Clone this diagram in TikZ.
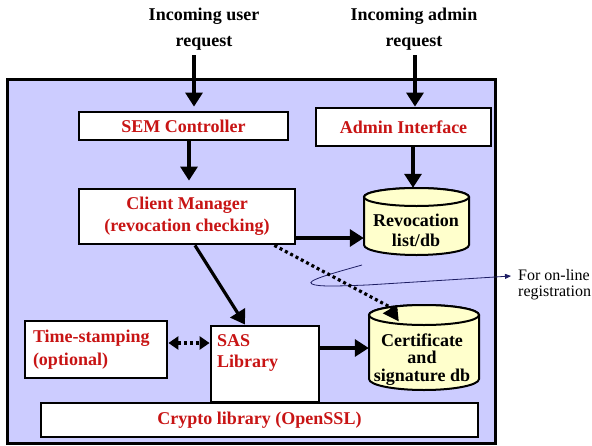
\documentclass[tikz,border=0pt]{standalone}
\usepackage{fontspec}
\setmainfont{Liberation Serif}
\usetikzlibrary{arrows.meta}
\definecolor{bgblue}{RGB}{204,204,255}
\definecolor{dbyellow}{RGB}{255,255,204}
\definecolor{redtext}{RGB}{200,20,20}
\definecolor{navyline}{RGB}{30,30,100}
\begin{document}
\begin{tikzpicture}[x=1pt,y=-1pt,
  box/.style={draw=black, line width=2.8pt, fill=white, inner sep=0pt,
    font=\bfseries\fontsize{18}{22}\selectfont, text=redtext, align=center},
  flow/.style={line width=3.2pt, -{Triangle[length=14pt,width=17pt]}},
  dotflow/.style={line width=3.2pt, dash pattern=on 3pt off 3pt},
  lbl/.style={font=\bfseries\fontsize{18}{26}\selectfont, align=center, inner sep=0pt},
  redlbl/.style={font=\bfseries\fontsize{18}{21}\selectfont, text=redtext, align=left, inner sep=0pt},
  cyl/.style={draw=black, line width=2pt, fill=dbyellow},
  dbtext/.style={font=\bfseries\fontsize{18}{20}\selectfont, align=center, inner sep=0pt},
  ghost/.style={inner sep=0pt}
]
\useasboundingbox (0,0) rectangle (592,445);

% outer frame
\node[draw=black, line width=3pt, fill=bgblue, minimum width=488pt, minimum height=364pt, inner sep=0pt] (frame) at (251,261) {};

% incoming labels
\node[lbl] (userreq) at (204,29) {Incoming user\\request};
\node[lbl] (adminreq) at (414,29) {Incoming admin\\request};

% boxes
\node[box, minimum width=209pt, minimum height=28pt] (sem) at (183.5,126) {SEM Controller};
\node[box, minimum width=175pt, minimum height=38pt] (admin) at (403.5,127) {Admin Interface};
\node[box, minimum width=216pt, minimum height=55pt] (client) at (187,216.5) {Client Manager\\(revocation checking)};
\node[box, align=left, text width=126pt, inner xsep=8pt, minimum height=57pt, font=\bfseries\fontsize{18}{23}\selectfont] (time) at (96,349.5) {Time-stamping\\(optional)};
\node[box, minimum width=108pt, minimum height=76pt] (sas) at (265,364) {};
\node[redlbl, anchor=west] (sastext) at (217,352.5) {SAS\\Library};
\node[box, minimum width=437pt, minimum height=34pt] (crypto) at (259.5,420) {Crypto library (OpenSSL)};

% revocation cylinder
\draw[cyl] (364,197) -- (364,245) arc[start angle=180,end angle=360,x radius=52.5pt,y radius=10pt] -- (469,197) arc[start angle=0,end angle=180,x radius=52.5pt,y radius=9pt] -- cycle;
\draw[cyl] (416.5,197) ellipse [x radius=52.5pt, y radius=9pt];
\node[ghost, minimum width=105pt, minimum height=67pt] (revcyl) at (416.5,221.5) {};
\node[dbtext] (revoc) at (416,230) {Revocation\\list/db};

% certificate cylinder
\draw[cyl] (369,315) -- (369,379) arc[start angle=180,end angle=360,x radius=55pt,y radius=11pt] -- (479,315) arc[start angle=0,end angle=180,x radius=55pt,y radius=10pt] -- cycle;
\draw[cyl] (424,315) ellipse [x radius=55pt, y radius=10pt];
\node[ghost, minimum width=110pt, minimum height=85pt] (certcyl) at (424,347.5) {};
\node[dbtext, font=\bfseries\fontsize{18}{17.5}\selectfont] (cert) at (422,359.5) {Certificate\\and\\signature db};

% on-line registration note
\node[font=\fontsize{16}{16}\selectfont, align=left, inner sep=0pt, anchor=west] (reg) at (518,285) {For on-line\\registration};
\coordinate (cstart) at (362,265);
\draw[navyline, line width=0.8pt, -{Triangle[length=6pt,width=5pt]}]
  (cstart) .. controls (330,274) and (305,281) .. (312,284)
  .. controls (318,287) and (340,286) .. (367,285) -- ([xshift=-7pt,yshift=9pt]reg.west);

% connectors
\draw[flow] ([xshift=-10pt,yshift=-5pt]userreq.south) -- ([xshift=10.5pt,yshift=4pt]sem.north);
\draw[flow] ([xshift=1pt,yshift=-5pt]adminreq.south) -- ([xshift=11.5pt]admin.north);
\draw[flow] ([xshift=5.5pt]sem.south) -- ([xshift=2pt,yshift=7pt]client.north);
\draw[flow] ([xshift=9.5pt]admin.south) -- ([xshift=-3.5pt]revcyl.north);
\draw[flow] ([yshift=-21.5pt]client.east) -- ([yshift=-16.5pt]revcyl.west);
\draw[flow] ([xshift=8pt]client.south) -- ([xshift=-20pt]sas.north);
\draw[flow] ([yshift=16pt]sas.east) -- ([yshift=-0.5pt]certcyl.west);
\draw[dotflow] ([xshift=-22pt]client.south east) -- ([xshift=-27pt,yshift=-6pt]certcyl.north);
\draw[flow] ([xshift=-29pt,yshift=-4pt]certcyl.north) -- ([xshift=-27pt]certcyl.north);
\draw[dotflow, {Triangle[length=10pt,width=13pt]}-{Triangle[length=10pt,width=13pt]}] ([yshift=6.5pt]time.east) -- ([yshift=21pt]sas.west);
\end{tikzpicture}
\end{document}
